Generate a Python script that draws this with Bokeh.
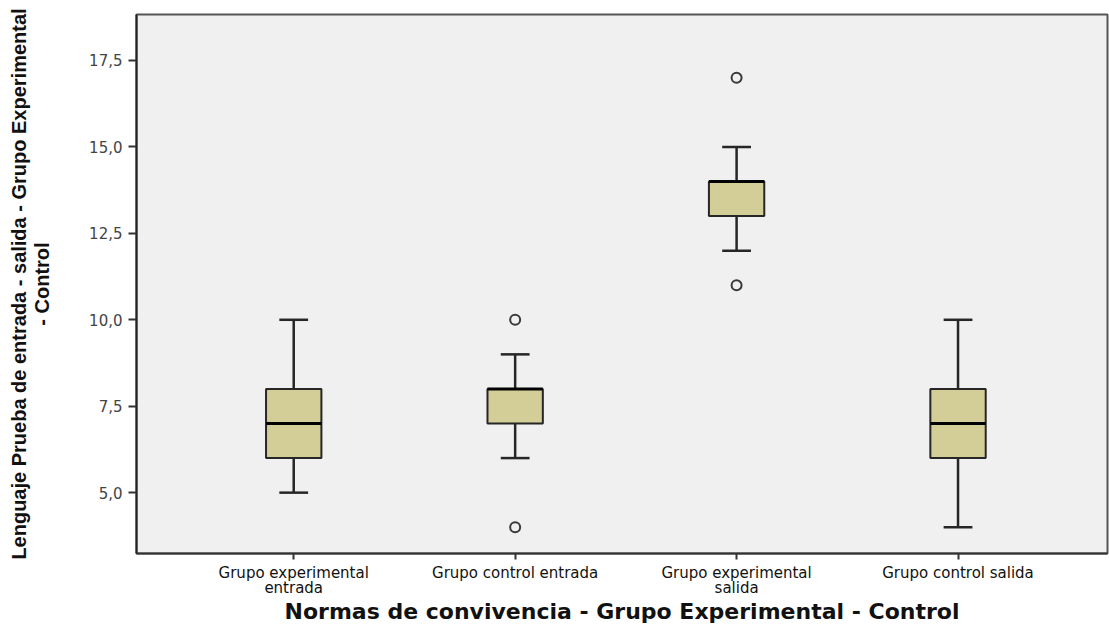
from bokeh.plotting import figure
from bokeh.models import Range1d, FixedTicker, ColumnDataSource
from bokeh.embed import file_html
from bokeh.resources import INLINE

# ---- data ----
categories = ["Grupo experimental\nentrada", "Grupo control entrada",
              "Grupo experimental\nsalida", "Grupo control salida"]
positions = [1, 2, 3, 4]
lower_whisker = [5, 6, 12, 4]
q1 = [6, 7, 13, 6]
median = [7, 8, 14, 7]
q3 = [8, 8, 14, 8]
upper_whisker = [10, 9, 15, 10]
outlier_pos = [2, 2, 3, 3]
outlier_val = [10, 4, 17, 11]
y_ticks = [5.0, 7.5, 10.0, 12.5, 15.0, 17.5]
y_tick_labels = ["5,0", "7,5", "10,0", "12,5", "15,0", "17,5"]

BOX_W = 0.25
CAP_W = 0.13
BG = "#f0f0f0"
FILL = "#d3ce97"
EDGE = "#262626"

p = figure(width=1109, height=626, output_backend="svg", toolbar_location=None,
           x_range=Range1d(0.29, 4.675), y_range=Range1d(3.24, 18.83),
           min_border_left=136, min_border_top=14, min_border_right=2, min_border_bottom=72)
p.background_fill_color = BG
p.border_fill_color = "white"
p.grid.visible = False
p.outline_line_color = "#555555"
p.outline_line_width = 2

src = ColumnDataSource(dict(x=positions, lw=lower_whisker, q1=q1, med=median, q3=q3, uw=upper_whisker,
                            cl=[v - CAP_W / 2 for v in positions], cr=[v + CAP_W / 2 for v in positions],
                            ml=[v - BOX_W / 2 for v in positions], mr=[v + BOX_W / 2 for v in positions]))

# whiskers
p.segment(x0="x", y0="q3", x1="x", y1="uw", source=src, line_color=EDGE, line_width=2.5)
p.segment(x0="x", y0="lw", x1="x", y1="q1", source=src, line_color=EDGE, line_width=2.5)
p.segment(x0="cl", y0="uw", x1="cr", y1="uw", source=src, line_color=EDGE, line_width=2.5)
p.segment(x0="cl", y0="lw", x1="cr", y1="lw", source=src, line_color=EDGE, line_width=2.5)
# boxes
p.vbar(x="x", width=BOX_W, bottom="q1", top="q3", source=src, fill_color=FILL,
       line_color=EDGE, line_width=2)
# medians
p.segment(x0="ml", y0="med", x1="mr", y1="med", source=src, line_color="black", line_width=3)
# outliers
p.scatter(outlier_pos, outlier_val, marker="circle", size=10, fill_color=BG,
          line_color="#3a3a3a", line_width=2)

# axes
p.xaxis.ticker = FixedTicker(ticks=positions)
p.xaxis.major_label_overrides = {pos: lab for pos, lab in zip(positions, categories)}
p.xaxis.minor_tick_line_color = None
p.xaxis.major_tick_in = 0
p.xaxis.major_tick_out = 6
p.xaxis.major_tick_line_color = "#333333"
p.xaxis.major_tick_line_width = 2
p.xaxis.axis_line_color = "#333333"
p.xaxis.axis_line_width = 2
p.xaxis.major_label_text_font = "DejaVu Sans"
p.xaxis.major_label_text_font_size = "15px"
p.xaxis.major_label_text_line_height = 0.85
p.xaxis.major_label_text_color = "#111111"
p.xaxis.major_label_standoff = 4
p.xaxis.axis_label = "Normas de convivencia - Grupo Experimental - Control"
p.xaxis.axis_label_text_font = "DejaVu Sans"
p.xaxis.axis_label_text_font_style = "bold"
p.xaxis.axis_label_text_font_size = "22px"
p.xaxis.axis_label_text_color = "#111111"
p.xaxis.axis_label_standoff = -1

p.yaxis.ticker = FixedTicker(ticks=y_ticks)
p.yaxis.major_label_overrides = {t: lab for t, lab in zip(y_ticks, y_tick_labels)}
p.yaxis.minor_tick_line_color = None
p.yaxis.major_tick_in = 0
p.yaxis.major_tick_out = 8
p.yaxis.major_tick_line_color = "#333333"
p.yaxis.major_tick_line_width = 2
p.yaxis.axis_line_color = "#222222"
p.yaxis.axis_line_width = 2
p.yaxis.major_label_text_font = "DejaVu Sans"
p.yaxis.major_label_text_font_size = "15px"
p.yaxis.major_label_text_color = "#444444"
p.yaxis.major_label_standoff = 6
p.yaxis.axis_label = "Lenguaje Prueba de entrada - salida - Grupo Experimental\n- Control"
p.yaxis.axis_label_text_font = "Liberation Sans"
p.yaxis.axis_label_text_font_style = "bold"
p.yaxis.axis_label_text_font_size = "20px"
p.yaxis.axis_label_text_line_height = 1.05
p.yaxis.axis_label_text_color = "#111111"
p.yaxis.axis_label_standoff = 33

open("out.html", "w").write(file_html(p, INLINE))
